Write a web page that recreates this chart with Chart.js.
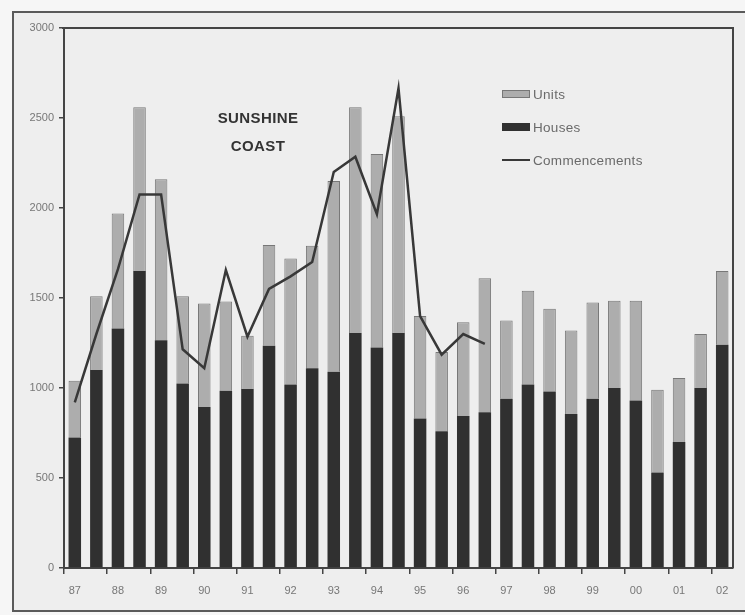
<!DOCTYPE html>
<html lang="en">
<head>
    <meta charset="utf-8" />
    <title>Sunshine Coast Dwelling Commencements</title>
    <script src="https://cdn.jsdelivr.net/npm/chart.js"></script>
    <style>
        body {
            margin: 0;
            width: 745px;
            height: 615px;
            overflow: hidden;
            background: #f6f6f6;
            font-family: "Liberation Sans", Arial, sans-serif;
        }

        .frame {
            position: absolute;
            left: 12px;
            top: 11px;
            width: 800px;
            height: 597px;
            border: 2px solid #5a5a5a;
            background: #eeeeee;
        }

        #chart {
            position: absolute;
            left: 0;
            top: 0;
        }

        .region {
            position: absolute;
            left: 198px;
            top: 104px;
            width: 120px;
            text-align: center;
            font-weight: bold;
            font-size: 15px;
            line-height: 28px;
            letter-spacing: 0.4px;
            color: #333;
        }

        .legend {
            position: absolute;
            left: 502px;
            top: 84px;
            color: #6a6a6a;
            font-size: 13.5px;
            letter-spacing: 0.3px;
        }

        .legend div {
            display: flex;
            align-items: center;
            height: 20px;
            margin-bottom: 13px;
        }

        .legend span.swatch {
            display: inline-block;
            width: 28px;
            box-sizing: border-box;
            margin-right: 3px;
        }
    </style>
</head>
<body>
    <div class="frame"></div>
    <canvas id="chart" width="745" height="615"></canvas>
    <div class="region">SUNSHINE<br>COAST</div>
    <div class="legend" id="legend"></div>
    <script>
        // Year labels, one under the first half of each year
        const yearLabels = ['87', '88', '89', '90', '91', '92', '93', '94', '95', '96', '97', '98', '99', '00', '01', '02'];
        // Two half-year periods per year, the series stops at the first half of 02
        const periods = yearLabels.flatMap(y => [y + ' H1', y + ' H2']).slice(0, 31);

        const houses = [725, 1100, 1330, 1650, 1265, 1025, 895, 985, 995, 1235,
            1020, 1110, 1090, 1305, 1225, 1305, 830, 760, 845, 865,
            940, 1020, 980, 855, 940, 1000, 930, 530, 700, 1000, 1240];
        const units = [315, 410, 640, 910, 895, 485, 575, 495, 295, 560,
            700, 680, 1060, 1255, 1075, 1205, 570, 440, 520, 745,
            435, 520, 460, 465, 535, 485, 555, 460, 355, 300, 410];
        const commencements = [920, 1300, 1660, 2075, 2075, 1215, 1110, 1655, 1285, 1550,
            1620, 1700, 2200, 2285, 1965, 2665, 1400, 1185, 1300, 1245];

        const yTicks = { min: 0, max: 3000, step: 500 };

        const axisColor = '#444';
        const labelColor = '#777';

        // top and right edges of the plot box
        const plotBox = {
            id: 'plotBox',
            afterDraw(chart) {
                const { ctx, chartArea: a } = chart;
                ctx.save();
                ctx.strokeStyle = axisColor;
                ctx.lineWidth = 2;
                ctx.beginPath();
                ctx.moveTo(a.left - 2, a.top);
                ctx.lineTo(a.right, a.top);
                ctx.lineTo(a.right, a.bottom);
                ctx.stroke();
                ctx.restore();
            }
        };

        const chart = new Chart(document.getElementById('chart'), {
            type: 'bar',
            data: {
                labels: periods,
                datasets: [
                    {
                        label: 'Houses',
                        data: houses,
                        backgroundColor: '#303030',
                        borderWidth: 0,
                        order: 2
                    },
                    {
                        label: 'Units',
                        data: units,
                        backgroundColor: '#adadad',
                        borderColor: '#777777',
                        borderWidth: 1,
                        order: 2
                    },
                    {
                        type: 'line',
                        label: 'Commencements',
                        data: commencements,
                        stack: 'line',
                        borderColor: '#383838',
                        borderWidth: 2.5,
                        pointRadius: 0,
                        tension: 0,
                        fill: false,
                        order: 1
                    }
                ]
            },
            options: {
                responsive: false,
                animation: false,
                datasets: {
                    bar: {
                        barPercentage: 0.58,
                        categoryPercentage: 1
                    }
                },
                layout: {
                    padding: { left: 14, top: 28, right: 12, bottom: 10 }
                },
                plugins: {
                    legend: { display: false },
                    tooltip: { enabled: false }
                },
                scales: {
                    x: {
                        stacked: true,
                        offset: true,
                        afterFit: s => { s.height = 37; },
                        grid: {
                            offset: true,
                            drawOnChartArea: false,
                            tickLength: 6,
                            lineWidth: 1.5,
                            color: c => c.index % 2 === 0 ? axisColor : 'rgba(0,0,0,0)'
                        },
                        border: { color: axisColor, width: 2 },
                        ticks: {
                            autoSkip: false,
                            maxRotation: 0,
                            padding: 10,
                            color: labelColor,
                            font: { size: 11 },
                            callback: (v, i) => i % 2 === 0 ? yearLabels[i / 2] : ''
                        }
                    },
                    y: {
                        stacked: true,
                        min: yTicks.min,
                        max: yTicks.max,
                        afterFit: s => { s.width = 50; },
                        grid: {
                            drawOnChartArea: false,
                            tickLength: 5,
                            lineWidth: 1.5,
                            color: axisColor
                        },
                        border: { color: axisColor, width: 2 },
                        ticks: {
                            stepSize: yTicks.step,
                            padding: 5,
                            color: labelColor,
                            font: { size: 11 },
                            callback: v => String(v)
                        }
                    }
                }
            },
            plugins: [plotBox]
        });

        // legend in the order Units, Houses, Commencements
        const legendEl = document.getElementById('legend');
        [1, 0, 2].forEach(i => {
            const ds = chart.data.datasets[i];
            const row = document.createElement('div');
            const sw = document.createElement('span');
            sw.className = 'swatch';
            if (ds.type === 'line') {
                sw.style.height = '2px';
                sw.style.background = ds.borderColor;
            } else {
                sw.style.height = '8px';
                sw.style.background = ds.backgroundColor;
                if (ds.borderWidth) sw.style.border = ds.borderWidth + 'px solid ' + ds.borderColor;
            }
            row.appendChild(sw);
            row.appendChild(document.createTextNode(ds.label));
            legendEl.appendChild(row);
        });
    </script>
</body>
</html>
